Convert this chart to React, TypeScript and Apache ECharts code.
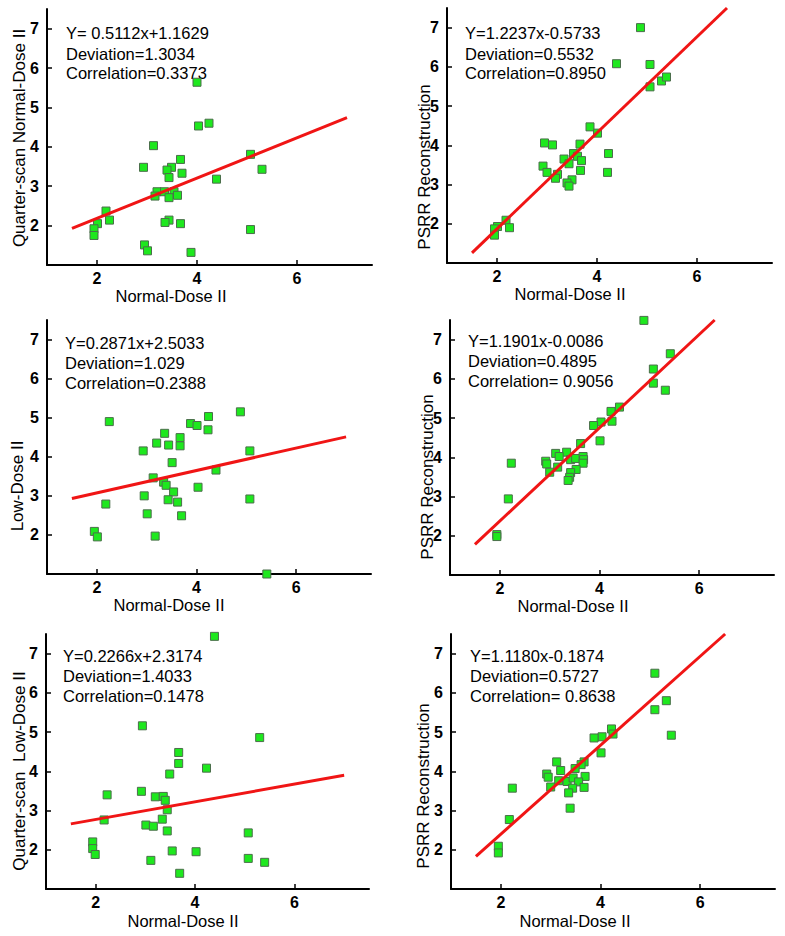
import React, { useEffect, useRef } from "react";
import * as echarts from "echarts";

// ---------- data ----------
const xTickValues = [2, 4, 6];
const yTickValues = [2, 3, 4, 5, 6, 7];
const axisMin = 1;
const axisMax = 7.5;

const xAxisTitle = "Normal-Dose II";
const yAxisTitles = [
  "Quarter-scan Normal-Dose II",
  "PSRR Reconstruction",
  "Low-Dose II",
  "PSRR Reconstruction",
  "Quarter-scan  Low-Dose II",
  "PSRR Reconstruction",
];

const equations = [
  "Y= 0.5112x+1.1629",
  "Y=1.2237x-0.5733",
  "Y=0.2871x+2.5033",
  "Y=1.1901x-0.0086",
  "Y=0.2266x+2.3174",
  "Y=1.1180x-0.1874",
];
const deviations = [
  "Deviation=1.3034",
  "Deviation=0.5532",
  "Deviation=1.029",
  "Deviation=0.4895",
  "Deviation=1.4033",
  "Deviation=0.5727",
];
const correlations = [
  "Correlation=0.3373",
  "Correlation=0.8950",
  "Correlation=0.2388",
  "Correlation= 0.9056",
  "Correlation=0.1478",
  "Correlation= 0.8638",
];

const points1 = [
  [4.0, 5.64], [4.03, 4.53], [4.24, 4.6], [3.13, 4.03], [3.67, 3.68], [2.93, 3.48],
  [3.49, 3.48], [3.4, 3.41], [3.7, 3.33], [3.44, 3.22], [5.07, 3.81], [5.3, 3.43],
  [4.39, 3.18], [3.2, 2.86], [3.16, 2.75], [3.35, 2.86], [3.54, 2.86], [3.44, 2.71],
  [3.61, 2.77], [2.18, 2.37], [2.25, 2.14], [2.01, 2.05], [1.94, 1.92], [1.94, 1.75],
  [3.44, 2.14], [3.36, 2.08], [3.67, 2.05], [5.07, 1.9], [2.95, 1.51], [3.01, 1.36],
  [3.88, 1.32],
];
const points2 = [
  [4.87, 7.0], [4.39, 6.08], [5.06, 6.06], [5.29, 5.64], [5.39, 5.74], [5.06, 5.49],
  [3.86, 4.47], [4.01, 4.31], [2.95, 4.06], [3.11, 4.01], [3.66, 4.03], [4.23, 3.79],
  [3.53, 3.79], [3.61, 3.72], [3.34, 3.65], [3.44, 3.53], [3.69, 3.61], [2.92, 3.47],
  [3.0, 3.31], [3.21, 3.26], [3.17, 3.16], [3.67, 3.36], [4.21, 3.31], [3.5, 3.12],
  [3.4, 3.04], [3.44, 2.96], [2.18, 2.09], [2.25, 1.9], [2.01, 1.93], [1.95, 1.87],
  [1.95, 1.71],
];
const points3 = [
  [2.25, 4.9], [4.88, 5.15], [4.24, 5.03], [3.88, 4.85], [4.01, 4.8], [4.23, 4.69],
  [3.36, 4.6], [3.67, 4.49], [3.2, 4.35], [3.44, 4.3], [3.67, 4.28], [2.93, 4.15],
  [5.07, 4.15], [3.51, 3.85], [4.39, 3.66], [3.13, 3.46], [3.34, 3.35], [3.39, 3.27],
  [4.03, 3.22], [3.54, 3.1], [2.95, 3.0], [3.43, 2.9], [3.62, 2.84], [2.18, 2.79],
  [5.07, 2.92], [3.01, 2.54], [3.7, 2.49], [1.95, 2.09], [2.01, 1.95], [3.17, 1.97],
  [5.41, 1.0],
];
const points4 = [
  [4.89, 7.49], [5.42, 6.64], [5.08, 6.25], [5.08, 5.89], [5.32, 5.71], [4.4, 5.28],
  [4.23, 5.17], [4.25, 4.92], [4.03, 4.9], [3.88, 4.81], [4.01, 4.42], [3.62, 4.35],
  [3.12, 4.1], [3.34, 4.13], [3.19, 4.02], [2.92, 3.9], [2.94, 3.83], [3.42, 3.94],
  [3.52, 3.97], [3.67, 4.02], [3.68, 3.94], [3.67, 3.85], [3.16, 3.75], [3.0, 3.62],
  [3.53, 3.69], [3.42, 3.61], [3.4, 3.49], [3.37, 3.41], [2.23, 3.85], [2.17, 2.94],
  [1.94, 2.03], [1.94, 1.98],
];
const points5 = [
  [4.39, 7.44], [2.94, 5.16], [5.3, 4.86], [3.67, 4.48], [3.67, 4.2], [4.23, 4.08],
  [3.49, 3.93], [2.23, 3.4], [2.92, 3.49], [3.2, 3.35], [3.36, 3.36], [3.4, 3.26],
  [3.44, 3.02], [2.17, 2.76], [3.34, 2.78], [3.01, 2.63], [3.16, 2.6], [3.44, 2.48],
  [5.07, 2.43], [1.94, 2.2], [1.94, 2.03], [1.99, 1.88], [3.54, 1.97], [4.02, 1.95],
  [3.11, 1.73], [5.07, 1.78], [5.4, 1.68], [3.69, 1.4],
];
const points6 = [
  [5.09, 6.5], [5.32, 5.8], [5.09, 5.57], [5.42, 4.92], [4.22, 5.08], [4.25, 4.95],
  [4.03, 4.88], [3.87, 4.85], [4.01, 4.47], [3.67, 4.24], [3.61, 4.17], [3.49, 4.07],
  [3.12, 4.24], [3.2, 4.02], [2.92, 3.93], [2.95, 3.85], [3.69, 3.87], [3.16, 3.76],
  [3.33, 3.74], [3.45, 3.83], [3.56, 3.73], [3.0, 3.6], [3.44, 3.57], [3.67, 3.59],
  [3.36, 3.45], [3.39, 3.06], [2.23, 3.57], [2.17, 2.77], [1.95, 2.09], [1.95, 1.92],
];

const fitLine1 = [[1.5, 1.93], [7.0, 4.74]];
const fitLine2 = [[1.5, 1.26], [6.6, 7.5]];
const fitLine3 = [[1.5, 2.93], [7.0, 4.51]];
const fitLine4 = [[1.5, 1.78], [6.31, 7.5]];
const fitLine5 = [[1.5, 2.66], [7.0, 3.9]];
const fitLine6 = [[1.5, 1.83], [6.5, 7.5]];

const allPoints = [points1, points2, points3, points4, points5, points6];
const allFits = [fitLine1, fitLine2, fitLine3, fitLine4, fitLine5, fitLine6];

// ---------- layout ----------
const grids = [
  { left: 47, top: 9, width: 325, height: 256 },
  { left: 447, top: 8, width: 325, height: 255 },
  { left: 47, top: 320, width: 324, height: 254 },
  { left: 450, top: 320, width: 324, height: 255 },
  { left: 46, top: 634, width: 323, height: 255 },
  { left: 451, top: 634, width: 324, height: 255 },
];
const annoPos = [
  { x: 66, y: [33, 54, 73] },
  { x: 465, y: [33, 54, 73] },
  { x: 65, y: [343, 363, 383] },
  { x: 468, y: [341, 361, 381] },
  { x: 63, y: [656, 676, 696] },
  { x: 470, y: [656, 676, 696] },
];
const yNamePos = [
  { x: 19, y: 138 },
  { x: 424, y: 167 },
  { x: 17, y: 486 },
  { x: 427, y: 477 },
  { x: 19, y: 771 },
  { x: 423, y: 786 },
];
const xNamePos = [
  { x: 171, y: 296 },
  { x: 570, y: 294 },
  { x: 169, y: 605 },
  { x: 573, y: 606 },
  { x: 183, y: 921 },
  { x: 575, y: 921 },
];

const FONT = "'Liberation Sans', Arial, sans-serif";

export default function App() {
  const ref = useRef<HTMLDivElement>(null);
  useEffect(() => {
    document.body.style.margin = "0";
    if (!ref.current) return;
    const chart = echarts.init(ref.current, null, { renderer: "svg" });

    const xAxes = grids.map((_, i) => ({
      type: "value",
      gridIndex: i,
      min: axisMin,
      max: axisMax,
      splitLine: { show: false },
      axisLine: { show: true, onZero: false, lineStyle: { color: "#000", width: 2 } },
      axisTick: { show: true, inside: true, length: 5, customValues: xTickValues, lineStyle: { color: "#000", width: 1.5 } },
      axisLabel: {
        customValues: xTickValues,
        color: "#000",
        fontSize: 16,
        fontWeight: "bold",
        fontFamily: FONT,
        margin: 5,
      },
    }));
    const yAxes = grids.map((_, i) => ({
      type: "value",
      gridIndex: i,
      min: axisMin,
      max: axisMax,
      splitLine: { show: false },
      axisLine: { show: true, onZero: false, lineStyle: { color: "#000", width: 2 } },
      axisTick: { show: true, inside: true, length: 5, customValues: yTickValues, lineStyle: { color: "#000", width: 1.5 } },
      axisLabel: {
        customValues: yTickValues,
        color: "#000",
        fontSize: 16,
        fontWeight: "bold",
        fontFamily: FONT,
        margin: 8,
      },
    }));

    const series: any[] = [];
    allPoints.forEach((pts, i) => {
      series.push({
        type: "scatter",
        xAxisIndex: i,
        yAxisIndex: i,
        data: pts,
        symbol: "rect",
        symbolSize: 8,
        itemStyle: { color: "#1ee81e", borderColor: "#4b6e4b", borderWidth: 1, opacity: 1 },
        z: 2,
      });
      series.push({
        type: "line",
        xAxisIndex: i,
        yAxisIndex: i,
        data: allFits[i],
        showSymbol: false,
        symbol: "none",
        lineStyle: { color: "#f01515", width: 3 },
        z: 3,
      });
    });

    const graphics: any[] = [];
    annoPos.forEach((p, i) => {
      [equations[i], deviations[i], correlations[i]].forEach((t, k) => {
        graphics.push({
          type: "text",
          x: p.x,
          y: p.y[k],
          style: { text: t, fill: "#000", font: `16.5px ${FONT}`, align: "left", verticalAlign: "middle" },
        });
      });
    });
    yNamePos.forEach((p, i) => {
      graphics.push({
        type: "text",
        x: p.x,
        y: p.y,
        rotation: Math.PI / 2,
        style: { text: yAxisTitles[i], fill: "#000", font: `17px ${FONT}`, align: "center", verticalAlign: "middle" },
      });
    });
    xNamePos.forEach((p) => {
      graphics.push({
        type: "text",
        x: p.x,
        y: p.y,
        style: { text: xAxisTitle, fill: "#000", font: `16.5px ${FONT}`, align: "center", verticalAlign: "middle" },
      });
    });

    chart.setOption({
      animation: false,
      backgroundColor: "#fff",
      grid: grids.map((g) => ({ ...g, containLabel: false })),
      xAxis: xAxes,
      yAxis: yAxes,
      series,
      graphic: graphics,
    });
    return () => chart.dispose();
  }, []);
  return <div ref={ref} style={{ width: 785, height: 936 }} />;
}
